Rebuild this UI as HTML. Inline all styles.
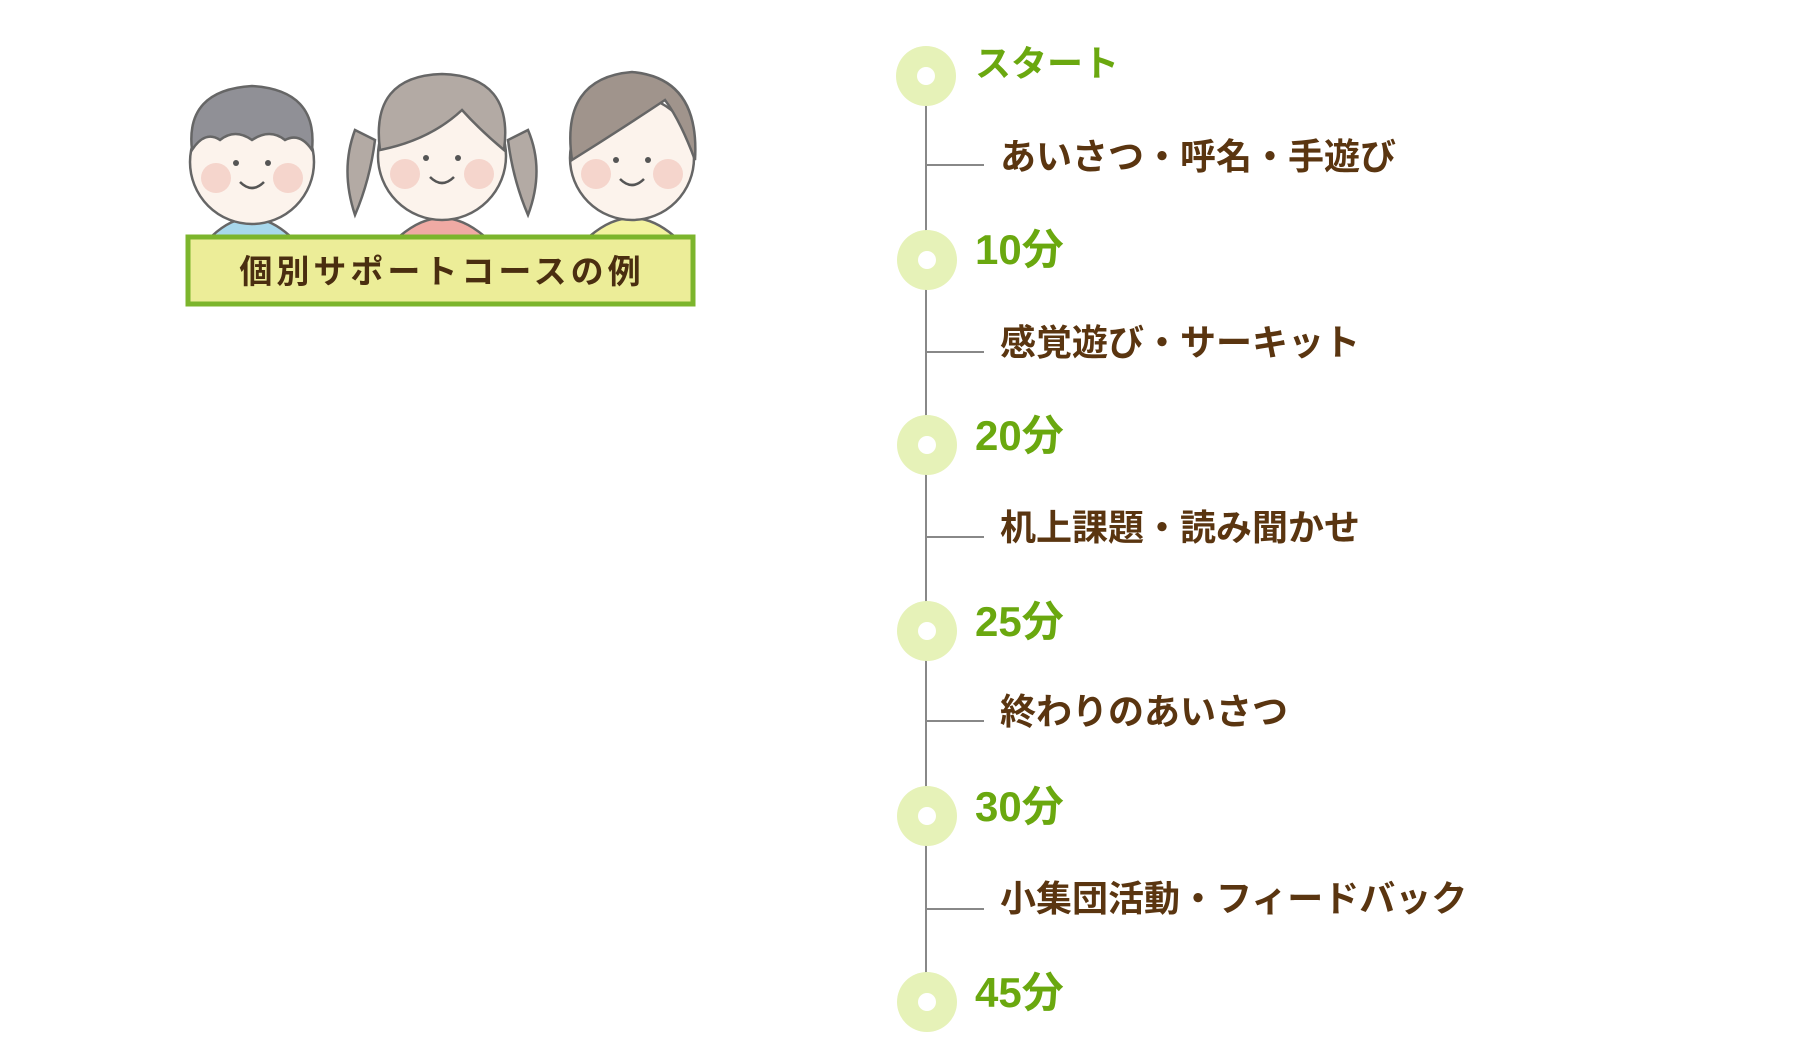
<!DOCTYPE html>
<html><head><meta charset="utf-8"><style>
body{margin:0;width:1800px;height:1060px;background:#fff;position:relative;overflow:hidden;font-family:"Liberation Sans","Noto Sans CJK JP",sans-serif}
.g{position:absolute;left:975px;color:#6aa80f;font-size:42px;font-weight:bold;line-height:1}
.b{position:absolute;left:1000px;color:#5a3510;font-size:36px;font-weight:bold;line-height:1}
</style></head><body>
<svg width="1800" height="1060" style="position:absolute;left:0;top:0">
<g transform="translate(-5,0)">
<line x1="931" y1="76" x2="931" y2="1002" stroke="#888" stroke-width="2"/>
<g stroke="#888" stroke-width="2">
<line x1="931" y1="165" x2="989" y2="165"/><line x1="931" y1="352" x2="989" y2="352"/>
<line x1="931" y1="537" x2="989" y2="537"/><line x1="931" y1="721" x2="989" y2="721"/>
<line x1="931" y1="909" x2="989" y2="909"/></g>
<g fill="#e6f2b8">
<circle cx="931" cy="76" r="30"/><circle cx="932" cy="260" r="30"/><circle cx="932" cy="445" r="30"/>
<circle cx="932" cy="631" r="30"/><circle cx="932" cy="816" r="30"/><circle cx="932" cy="1002" r="30"/></g>
<g fill="#fff">
<circle cx="931" cy="76" r="9"/><circle cx="932" cy="260" r="9"/><circle cx="932" cy="445" r="9"/>
<circle cx="932" cy="631" r="9"/><circle cx="932" cy="816" r="9"/><circle cx="932" cy="1002" r="9"/></g>
</g>
<g stroke="#666" stroke-width="2.5">
<path d="M212 236 Q250 200 290 236Z" fill="#a8d8ec"/>
<path d="M400 236 Q442 200 484 236Z" fill="#f0aaa4"/>
<path d="M590 236 Q632 200 674 236Z" fill="#f3f2a0"/>
<path d="M355 130 Q340 170 355 215 Q370 180 375 140Z" fill="#b3aaa4"/>
<path d="M528 130 Q545 170 528 215 Q513 180 508 140Z" fill="#b3aaa4"/>
<circle cx="252" cy="162" r="62" fill="#fcf3ec"/>
<circle cx="442" cy="156" r="64" fill="#fcf3ec"/>
<circle cx="632" cy="158" r="62" fill="#fcf3ec"/>
<path d="M192 150 Q185 90 252 86 Q318 90 312 150 Q300 132 285 140 Q270 128 252 140 Q235 128 220 140 Q205 130 192 150Z" fill="#909096"/>
<path d="M380 150 Q370 76 442 74 Q514 76 504 150 Q480 130 462 110 Q430 140 380 150Z" fill="#b3aaa4"/>
<path d="M572 160 Q560 78 632 72 Q700 78 695 160 Q680 120 665 100 Q620 130 572 160Z" fill="#a0948c"/>
</g>
<g fill="#f5d5cc"><circle cx="216" cy="178" r="15"/><circle cx="288" cy="178" r="15"/>
<circle cx="405" cy="174" r="15"/><circle cx="479" cy="174" r="15"/>
<circle cx="596" cy="174" r="15"/><circle cx="668" cy="174" r="15"/></g>
<g fill="#555"><circle cx="236" cy="163" r="3"/><circle cx="268" cy="163" r="3"/>
<circle cx="426" cy="158" r="3"/><circle cx="458" cy="158" r="3"/>
<circle cx="616" cy="160" r="3"/><circle cx="648" cy="160" r="3"/></g>
<g fill="none" stroke="#555" stroke-width="2.5"><path d="M240 182 Q252 194 264 182"/><path d="M430 177 Q442 189 454 177"/><path d="M620 179 Q632 191 644 179"/></g>
<rect x="188" y="237" width="505" height="67" fill="#eced98" stroke="#7cb52c" stroke-width="5"/>
<text x="442" y="283" text-anchor="middle" font-size="33" font-weight="bold" fill="#4a2e10" letter-spacing="4" font-family="Liberation Sans, Noto Sans CJK JP, sans-serif">個別サポートコースの例</text>
</svg>
<div class="g" style="top:46px;font-size:36px">スタート</div>
<div class="b" style="top:139px">あいさつ・呼名・手遊び</div>
<div class="g" style="top:229px">10分</div>
<div class="b" style="top:325px">感覚遊び・サーキット</div>
<div class="g" style="top:415px">20分</div>
<div class="b" style="top:510px">机上課題・読み聞かせ</div>
<div class="g" style="top:601px">25分</div>
<div class="b" style="top:694px">終わりのあいさつ</div>
<div class="g" style="top:786px">30分</div>
<div class="b" style="top:881px">小集団活動・フィードバック</div>
<div class="g" style="top:972px">45分</div>
</body></html>
